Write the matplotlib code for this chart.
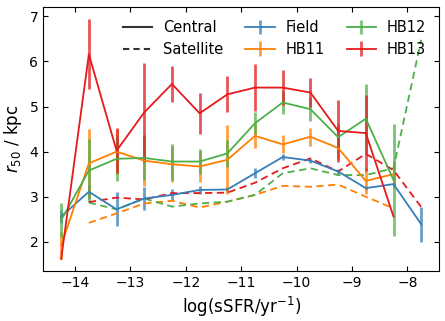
import matplotlib
matplotlib.use('Agg')
import matplotlib.pyplot as plt
import numpy as np
from matplotlib.lines import Line2D

# bin centres in log(sSFR)
ssfr = np.arange(-14.25, -7.5, 0.5)

# central galaxies (solid lines with error bars)
field = [2.56, 3.11, 2.72, 2.96, 3.04, 3.15, 3.16, 3.52, 3.88, 3.80, 3.56, 3.19, 3.28, 2.39]
field_err = [0.15, 0.15, 0.38, 0.26, 0.12, 0.09, 0.05, 0.11, 0.07, 0.05, 0.05, 0.05, 0.05, 0.39]
hb11 = [1.92, 3.74, 4.00, 3.80, 3.72, 3.67, 3.82, 4.35, 4.16, 4.33, 4.08, 3.35, 3.50]
hb11_err = [0.3, 0.76, 0.5, 0.56, 0.4, 0.35, 0.76, 0.27, 0.2, 0.2, 0.25, 0.28, 0.3]
hb12 = [2.48, 3.58, 3.84, 3.86, 3.78, 3.78, 3.96, 4.63, 5.09, 4.94, 4.32, 4.73, 3.37]
hb12_err = [0.37, 0.7, 0.5, 0.5, 0.4, 0.27, 0.3, 0.24, 0.25, 0.27, 0.3, 0.77, 1.24]
hb13 = [1.62, 6.16, 4.02, 4.87, 5.50, 4.85, 5.27, 5.42, 5.42, 5.31, 4.46, 4.41, 2.56]
hb13_err = [0.0, 0.78, 0.5, 1.1, 0.4, 0.45, 0.4, 0.53, 0.38, 0.33, 0.68, 0.84, 0.0]

# satellites (dashed, start at -13.75)
hb11_sat = [2.42, 2.63, 2.85, 2.91, 2.76, 2.89, 3.04, 3.24, 3.22, 3.27, 3.00, 2.74]
hb12_sat = [2.87, 2.72, 2.96, 2.78, 2.85, 2.89, 3.04, 3.52, 3.63, 3.48, 3.48, 3.63, 6.48]
hb13_sat = [2.88, 2.98, 2.94, 3.08, 3.08, 3.09, 3.31, 3.63, 3.85, 3.56, 3.95, 3.59, 2.77]

names = ['Field', 'HB11', 'HB12', 'HB13']
colors = ['#377eb8', '#ff7f00', '#4daf4a', '#e41a1c']

fig = plt.figure(figsize=(4.45, 3.21), dpi=100)
ax = fig.add_axes([0.097, 0.156, 0.89, 0.822])

cen = [field, hb11, hb12, hb13]
cen_err = [field_err, hb11_err, hb12_err, hb13_err]
handles = []
for y, e, c, n in zip(cen, cen_err, colors, names):
    x = ssfr[:len(y)]
    eb = ax.errorbar(x, y, yerr=e, color=c, lw=1.3, elinewidth=2, capsize=0, label=n)
    for bl in eb[2]:
        bl.set_alpha(0.75)
    handles.append(eb)

sats = [None, hb11_sat, hb12_sat, hb13_sat]
for y, c in zip(sats, colors):
    if y is None:
        continue
    x = ssfr[1:1 + len(y)]
    ax.plot(x, y, color=c, lw=1.3, ls='--', dashes=(4, 2.5))

h_cen = Line2D([], [], color='k', alpha=0.8, lw=1.5, ls='-')
h_sat = Line2D([], [], color='k', alpha=0.8, lw=1.5, ls='--', dashes=(3, 2))

ax.legend([h_cen, h_sat] + handles, ['Central', 'Satellite'] + names,
          loc='upper right', ncol=3, frameon=False, fontsize=10.5,
          handlelength=2.0, columnspacing=1.5, handletextpad=0.75,
          labelspacing=0.45)

ax.set_xlabel(r'log(sSFR/yr$^{-1}$)', fontsize=12)
ax.set_ylabel(r'$r_{50}$ / kpc', fontsize=12)
ax.tick_params(direction='in', top=True, right=True, labelsize=10)
ax.set_yticks([2, 3, 4, 5, 6, 7])

fig.savefig('out.png', dpi=100, facecolor='w')
